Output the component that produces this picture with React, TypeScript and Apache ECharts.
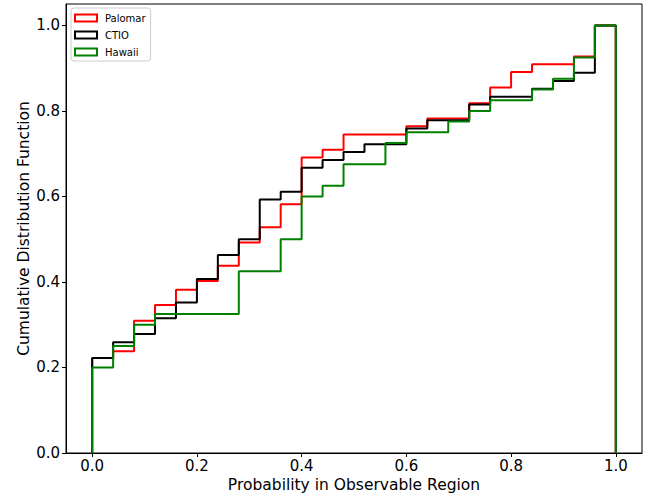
import React, { useEffect, useRef } from "react";
import * as echarts from "echarts";

const binEdges = [0, 0.04, 0.08, 0.12, 0.16, 0.2, 0.24, 0.28, 0.32, 0.36, 0.4, 0.44, 0.48, 0.52, 0.56, 0.6, 0.64, 0.68, 0.72, 0.76, 0.8, 0.84, 0.88, 0.92, 0.96, 1.0];

const palomar = [0.222, 0.238, 0.309, 0.346, 0.382, 0.402, 0.438, 0.492, 0.528, 0.582, 0.691, 0.709, 0.745, 0.745, 0.745, 0.764, 0.782, 0.782, 0.818, 0.855, 0.891, 0.909, 0.909, 0.927, 1.0];
const ctio = [0.222, 0.259, 0.278, 0.315, 0.352, 0.407, 0.463, 0.5, 0.593, 0.611, 0.667, 0.685, 0.704, 0.722, 0.722, 0.759, 0.778, 0.778, 0.815, 0.833, 0.833, 0.852, 0.87, 0.889, 1.0];
const hawaii = [0.2, 0.25, 0.3, 0.325, 0.325, 0.325, 0.325, 0.425, 0.425, 0.5, 0.6, 0.625, 0.675, 0.675, 0.725, 0.75, 0.75, 0.775, 0.8, 0.825, 0.825, 0.85, 0.875, 0.925, 1.0];

const tickValues = [0, 0.2, 0.4, 0.6, 0.8, 1.0];

const seriesDefs = [
  { name: "Palomar", data: palomar, color: "#ff0000" },
  { name: "CTIO", data: ctio, color: "#000000" },
  { name: "Hawaii", data: hawaii, color: "#008000" },
];

function stepPoints(values: number[]): number[][] {
  const pts: number[][] = [[binEdges[0], 0]];
  values.forEach((v, i) => {
    pts.push([binEdges[i], v]);
    pts.push([binEdges[i + 1], v]);
  });
  pts.push([binEdges[binEdges.length - 1], 0]);
  return pts;
}

const FONT = "DejaVu Sans";

export default function App() {
  const ref = useRef<HTMLDivElement>(null);
  useEffect(() => {
    if (!ref.current) return;
    const chart = echarts.init(ref.current, null, { renderer: "svg" });
    chart.setOption({
      animation: false,
      textStyle: { fontFamily: FONT },
      grid: {
        left: 66,
        right: 5,
        top: 4,
        bottom: 44,
        containLabel: false,
        outerBoundsMode: "none",
        show: true,
        borderColor: "#000",
        borderWidth: 1,
        backgroundColor: "#fff",
      },
      legend: {
        left: 71,
        top: 8,
        orient: "vertical",
        itemWidth: 22,
        itemHeight: 7,
        itemGap: 7,
        padding: [5, 5, 4, 3],
        borderColor: "#cccccc",
        borderWidth: 1,
        borderRadius: 3,
        backgroundColor: "#fff",
        textStyle: { fontFamily: FONT, fontSize: 10, color: "#000", padding: [0, 0, 0, 3] },
        data: seriesDefs.map((s) => ({
          name: s.name,
          icon: "rect",
          itemStyle: { color: "#fff", borderColor: s.color, borderWidth: 2 },
        })),
      },
      xAxis: {
        type: "value",
        min: -0.05,
        max: 1.05,
        name: "Probability in Observable Region",
        nameLocation: "middle",
        nameGap: 24,
        nameMoveOverlap: false,
        nameTextStyle: { fontFamily: FONT, fontSize: 15.5, color: "#000" },
        axisLine: { show: true, onZero: false, lineStyle: { color: "#000", width: 1 } },
        axisTick: { show: true, length: 4, lineStyle: { color: "#000" }, customValues: tickValues },
        axisLabel: {
          fontFamily: FONT,
          fontSize: 15,
          color: "#000",
          margin: 5,
          customValues: tickValues,
          formatter: (v: number) => v.toFixed(1),
        },
        splitLine: { show: false },
      },
      yAxis: {
        type: "value",
        min: 0,
        max: 1.05,
        name: "Cumulative Distribution Function",
        nameLocation: "middle",
        nameGap: 34,
        nameMoveOverlap: false,
        nameTextStyle: { fontFamily: FONT, fontSize: 15.5, color: "#000" },
        axisLine: { show: true, onZero: false, lineStyle: { color: "#000", width: 1 } },
        axisTick: { show: true, length: 4, lineStyle: { color: "#000" }, customValues: tickValues },
        axisLabel: {
          fontFamily: FONT,
          fontSize: 15,
          color: "#000",
          margin: 6,
          customValues: tickValues,
          formatter: (v: number) => v.toFixed(1),
        },
        splitLine: { show: false },
      },
      series: seriesDefs.map((s) => ({
        name: s.name,
        type: "line",
        data: stepPoints(s.data),
        showSymbol: false,
        symbol: "none",
        color: s.color,
        lineStyle: { color: s.color, width: 2 },
        itemStyle: { color: s.color },
      })),
    });
    return () => chart.dispose();
  }, []);
  return <div ref={ref} style={{ width: 647, height: 497, position: "absolute", left: 0, top: 0 }} />;
}
